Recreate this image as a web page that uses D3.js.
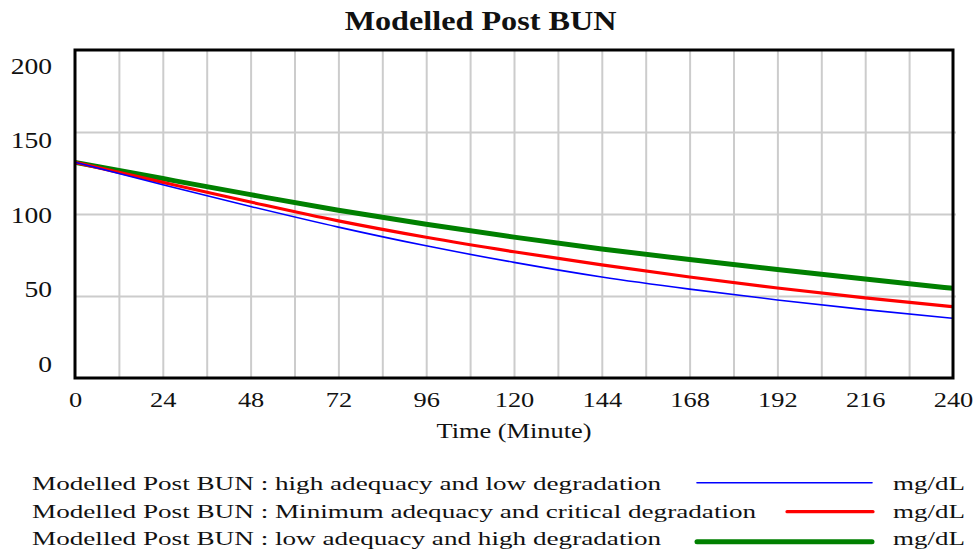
<!DOCTYPE html>
<html>
<head>
<meta charset="utf-8">
<script src="https://cdn.jsdelivr.net/npm/d3@7"></script>
<style>
  body { margin: 0; background: #fff; }
  text { font-family: "Liberation Serif", "Times New Roman", serif; fill: #111; }
</style>
</head>
<body>
<div id="chart-area"></div>
<script>
// DATA
var minutes = [0, 24, 48, 72, 96, 120, 144, 168, 192, 216, 240];
var highAdequacyLowDeg = [131.5, 117.8, 104.6, 92.0, 80.6, 70.5, 61.6, 54.2, 47.6, 41.7, 36.4];
var minAdequacyCritDeg = [131.5, 119.3, 107.3, 95.8, 85.8, 77.0, 69.0, 61.6, 54.9, 48.9, 43.5];
var lowAdequacyHighDeg = [131.5, 121.6, 111.8, 102.3, 93.8, 85.9, 78.7, 72.2, 66.1, 60.3, 54.7];
var xTickLabels = [0, 24, 48, 72, 96, 120, 144, 168, 192, 216, 240];
var yTickLabels = [0, 50, 100, 150, 200];
var seriesLabels = [
    "Modelled Post BUN : high adequacy and low degradation",
    "Modelled Post BUN : Minimum adequacy and critical degradation",
    "Modelled Post BUN : low adequacy and high degradation"
];
var unitLabel = "mg/dL";

// GRAPHIC'S SIZE
var W = 974, H = 557;
var margin = { top: 50, right: 21, bottom: 179, left: 75 };
var width = W - margin.left - margin.right;
var height = H - margin.top - margin.bottom;

var svg = d3.select("#chart-area")
    .append("svg")
    .attr("width", W)
    .attr("height", H);

var g = svg.append("g")
    .attr("transform", "translate(" + margin.left + "," + margin.top + ")");

// scales
var x = d3.scaleLinear().domain([0, 240]).range([0, width]);
var y = d3.scaleLinear().domain([0, 200]).range([height, 0]);
// the tick labels of the y axis are spread a bit inside the plot
var yLab = d3.scaleLinear().domain([0, 200]).range([height - 15, 15]);

// Grid
g.append("g")
    .attr("class", "grid")
    .call(d3.axisBottom(x).tickValues(d3.range(12, 240, 12)).tickSize(height).tickFormat(""))
    .call(gg => gg.select(".domain").remove())
    .selectAll("line").attr("stroke", "#cccccc").attr("stroke-width", 2);

g.append("g")
    .attr("class", "grid")
    .call(d3.axisLeft(y).tickValues([50, 100, 150]).tickSize(-width - 3).tickFormat(""))
    .call(gg => gg.select(".domain").remove())
    .selectAll("line").attr("stroke", "#cccccc").attr("stroke-width", 2);

// Series
var series = [
    { values: lowAdequacyHighDeg, color: "#008000", w: 5 },
    { values: minAdequacyCritDeg, color: "#ff0000", w: 3.2 },
    { values: highAdequacyLowDeg, color: "#0000ff", w: 1.6 }
];

var line = d3.line()
    .x((d, i) => x(minutes[i]))
    .y(d => y(d))
    .curve(d3.curveMonotoneX);

g.selectAll(".series")
    .data(series)
    .enter().append("path")
    .attr("class", "series")
    .attr("fill", "none")
    .attr("stroke", d => d.color)
    .attr("stroke-width", d => d.w)
    .attr("d", d => line(d.values));

// Frame
g.append("rect")
    .attr("width", width)
    .attr("height", height)
    .attr("fill", "none")
    .attr("stroke", "#000")
    .attr("stroke-width", 3);

// X axis labels
var sx = 1.2;
var xAxisGroup = g.append("g")
    .attr("transform", "translate(0," + height + ")")
    .call(d3.axisBottom(x).tickValues(xTickLabels).tickSize(0).tickFormat(d => d));
xAxisGroup.select(".domain").remove();
xAxisGroup.selectAll("text")
    .attr("y", 29).attr("dy", 0)
    .attr("font-size", "22px")
    .attr("transform", "scale(" + sx + ",1)");

// Y axis labels
var yAxisGroup = g.append("g")
    .call(d3.axisLeft(yLab).tickValues(yTickLabels).tickSize(0).tickFormat(d => d));
yAxisGroup.select(".domain").remove();
yAxisGroup.selectAll("text")
    .attr("x", -23 / sx).attr("dy", "0.35em")
    .attr("font-size", "23px")
    .attr("transform", "scale(" + sx + ",1)");

// stretched text helper
function label(parent, tx, ty, s, str, size, anchor, bold) {
    parent.append("text")
        .attr("transform", "translate(" + tx + "," + ty + ") scale(" + s + ",1)")
        .attr("text-anchor", anchor)
        .attr("font-size", size + "px")
        .attr("font-weight", bold ? "bold" : "normal")
        .text(str);
}

// Title
label(svg, 480.5, 30, 1.15, "Modelled Post BUN", 28, "middle", true);

// X label
label(svg, 514, 438, 1.2, "Time (Minute)", 22, "middle", false);

// Legend
var legendRows = [
    { y: 490, lineY: 482.7, x1: 697, x2: 872, color: "#0000ff", w: 1.6 },
    { y: 517.5, lineY: 511.7, x1: 787, x2: 873, color: "#ff0000", w: 3.2 },
    { y: 545, lineY: 541.7, x1: 697, x2: 872, color: "#008000", w: 5 }
];
legendRows.forEach((r, i) => {
    label(svg, 32, r.y, 1.43, seriesLabels[i], 19, "start", false);
    label(svg, 965, r.y, 1.42, unitLabel, 19, "end", false);
    svg.append("line")
        .attr("x1", r.x1).attr("x2", r.x2)
        .attr("y1", r.lineY).attr("y2", r.lineY)
        .attr("stroke", r.color)
        .attr("stroke-width", r.w)
        .attr("stroke-linecap", "round");
});
</script>
</body>
</html>
